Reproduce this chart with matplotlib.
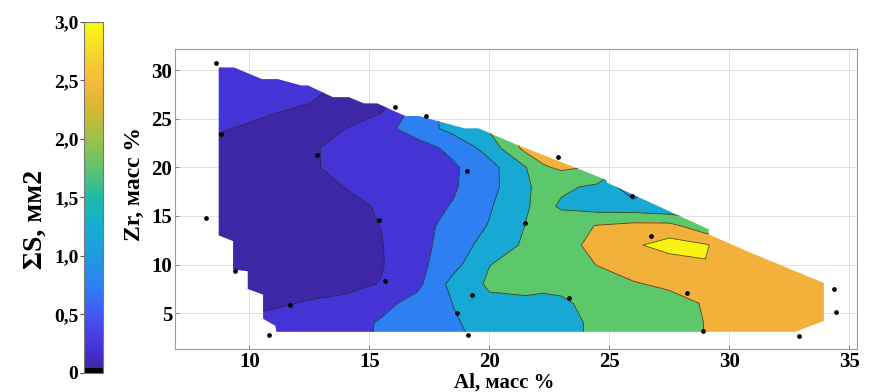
import numpy as np
import matplotlib
matplotlib.use('Agg')
import matplotlib.pyplot as plt
from matplotlib.colors import LinearSegmentedColormap, Normalize
from matplotlib.cm import ScalarMappable
from matplotlib.patches import Polygon

plt.rcParams['font.family'] = ['Liberation Serif', 'DejaVu Serif']
plt.rcParams['font.weight'] = 'bold'

# grid of the interpolated surface, sum of areas S (mm2)
al_nodes = [8.0, 9.5, 11.0, 12.5, 14.0, 15.5, 17.0, 18.5, 20.0, 21.5, 22.25,
            23.0, 24.5, 26.0, 27.5, 29.0, 30.5, 32.0, 33.5, 35.0]
zr_nodes = [2, 4, 6, 8, 10, 12, 14, 16, 18, 20, 22, 24, 26, 28, 30, 32]
area_grid = [
    [0.47, 0.50, 0.50, 0.50, 0.55, 0.82, 1.00, 1.16, 1.35, 1.50, 1.57, 1.64, 1.82, 2.00, 2.06, 2.26, 2.44, 2.50, 2.50, 2.50],
    [0.24, 0.32, 0.40, 0.50, 0.55, 0.80, 1.01, 1.21, 1.40, 1.50, 1.57, 1.64, 1.82, 2.00, 2.06, 2.26, 2.44, 2.50, 2.50, 2.50],
    [0.01, 0.09, 0.19, 0.29, 0.36, 0.61, 0.92, 1.26, 1.65, 1.65, 1.62, 1.69, 1.87, 2.02, 2.11, 2.28, 2.47, 2.50, 2.50, 2.50],
    [0.00, 0.00, 0.00, 0.07, 0.13, 0.27, 0.63, 1.42, 1.82, 1.90, 1.87, 1.85, 2.11, 2.22, 2.32, 2.40, 2.50, 2.50, 2.50, 2.50],
    [0.00, 0.00, 0.00, 0.00, 0.03, 0.22, 0.60, 1.09, 1.74, 1.91, 2.00, 2.08, 2.26, 2.43, 2.50, 2.73, 2.47, 2.45, 2.45, 2.50],
    [0.00, 0.00, 0.00, 0.00, 0.04, 0.23, 0.58, 0.99, 1.46, 1.82, 1.97, 2.15, 2.33, 2.68, 2.95, 2.80, 2.35, 2.05, 2.10, 2.20],
    [0.00, 0.00, 0.00, 0.00, 0.07, 0.26, 0.58, 0.91, 1.28, 1.76, 1.84, 2.06, 2.27, 2.39, 2.40, 1.90, 1.95, 2.00, 2.00, 2.00],
    [0.00, 0.00, 0.00, 0.00, 0.13, 0.30, 0.57, 0.78, 1.20, 1.70, 1.90, 1.68, 1.52, 1.45, 1.30, 1.50, 1.90, 2.00, 2.00, 2.00],
    [0.00, 0.00, 0.00, 0.10, 0.26, 0.41, 0.51, 0.70, 1.07, 1.72, 1.81, 1.83, 1.67, 0.90, 1.50, 1.80, 1.90, 2.00, 2.00, 2.00],
    [0.00, 0.00, 0.00, 0.19, 0.38, 0.50, 0.50, 0.68, 1.08, 1.72, 2.19, 2.33, 2.20, 1.50, 1.50, 1.80, 1.90, 2.00, 2.00, 2.00],
    [0.19, 0.06, 0.00, 0.20, 0.37, 0.54, 0.55, 0.875, 1.45, 2.40, 2.55, 2.80, 2.20, 1.50, 1.50, 1.80, 1.90, 2.00, 2.00, 2.00],
    [0.36, 0.23, 0.10, 0.11, 0.25, 0.58, 0.98, 1.42, 1.81, 2.50, 2.50, 2.50, 2.20, 1.50, 1.50, 1.80, 1.90, 2.00, 2.00, 2.00],
    [0.50, 0.43, 0.30, 0.19, 0.09, 0.17, 0.95, 1.50, 2.00, 2.50, 2.50, 2.50, 2.20, 1.50, 1.50, 1.80, 1.90, 2.00, 2.00, 2.00],
    [0.50, 0.50, 0.50, 0.40, 0.10, 0.10, 0.90, 1.50, 2.00, 2.50, 2.50, 2.50, 2.20, 1.50, 1.50, 1.80, 1.90, 2.00, 2.00, 2.00],
    [0.50, 0.50, 0.50, 0.50, 0.30, 0.30, 0.90, 1.50, 2.00, 2.50, 2.50, 2.50, 2.20, 1.50, 1.50, 1.80, 1.90, 2.00, 2.00, 2.00],
    [0.50, 0.50, 0.50, 0.50, 0.50, 0.50, 0.90, 1.50, 2.00, 2.50, 2.50, 2.50, 2.20, 1.50, 1.50, 1.80, 1.90, 2.00, 2.00, 2.00],
]

# outline of the composition region that was mapped
edge_al = [8.72, 9.36, 10.52, 11.19, 12.15, 12.44, 13.48, 14.15, 14.77, 15.33,
           16.49, 17.07, 18.96, 19.55, 21.07, 23.92, 24.89, 24.89, 29.14, 29.14,
           30.9, 33.94, 33.94, 32.74, 11.13, 11.08, 10.57, 10.57, 9.93, 9.93,
           9.32, 9.32, 8.72]
edge_zr = [30.3, 30.3, 29.1, 29.1, 28.45, 28.45, 27.24, 27.24, 26.6, 26.6,
           25.3, 25.3, 24.03, 24.03, 22.41, 19.66, 18.69, 18.45, 13.62, 13.1,
           11.2, 8.1, 4.2, 3.07, 3.07, 3.69, 4.41, 6.9, 7.48, 9.31,
           9.48, 12.41, 13.0]

# measured alloys
pt_al = [8.62, 8.81, 12.83, 16.07, 17.36, 19.08, 8.21, 15.38, 9.42, 15.67,
         11.70, 10.81, 18.64, 19.27, 19.10, 22.84, 25.93, 21.50, 26.72, 23.33,
         28.25, 28.90, 32.92, 34.38, 34.46]
pt_zr = [30.74, 23.42, 21.32, 26.26, 25.33, 19.61, 14.84, 14.60, 9.32, 8.32,
         5.85, 2.74, 4.96, 6.91, 2.70, 21.08, 17.04, 14.26, 12.92, 6.54,
         7.06, 3.11, 2.60, 7.53, 5.06]

levels = [-1, 0.25, 0.75, 1.25, 1.75, 2.25, 2.75, 4]
fill_colors = ['#3d27a6', '#4434d6', '#2e80f2', '#18a8d4', '#5dc76b', '#f2b13a', '#f9f214']

parula_stops = [(0.0, '#000000'), (0.012, '#000000'), (0.0121, '#3e26a8'),
                (0.06, '#4530cf'), (0.12, '#4643e8'), (0.18, '#3f5ff5'),
                (0.25, '#2e80f2'), (0.33, '#1f9ae0'), (0.42, '#14afcf'),
                (0.50, '#1fbaa9'), (0.58, '#5dc46d'), (0.67, '#9fc14a'),
                (0.75, '#d6b833'), (0.83, '#f7b93b'), (0.91, '#f6d52c'),
                (1.0, '#f9fb0e')]
cbar_ticks = [0, 0.5, 1.0, 1.5, 2.0, 2.5, 3.0]
cbar_labels = ['0', '0,5', '1,0', '1,5', '2,0', '2,5', '3,0']


fig = plt.figure(figsize=(8.69, 3.92), dpi=100)
ax = fig.add_axes([0.2014, 0.1097, 0.7848, 0.7653])

X, Y = np.meshgrid(al_nodes, zr_nodes)
Z = np.array(area_grid)

region = Polygon(np.column_stack([edge_al, edge_zr]), closed=True,
                 transform=ax.transData, facecolor='none', edgecolor='none')

cf = ax.contourf(X, Y, Z, levels=levels, colors=fill_colors, zorder=2)
cf.set_clip_path(region)
cl = ax.contour(X, Y, Z, levels=levels[1:-1], colors='#202020',
                linewidths=0.6, alpha=0.8, zorder=3)
cl.set_clip_path(region)

ax.plot(pt_al, pt_zr, 'o', color='black', ms=2.4, zorder=5)

ax.set_xlim(6.9, 35.32)
ax.set_ylim(1.3, 32.2)
ax.set_xticks([10, 15, 20, 25, 30, 35])
ax.set_yticks([5, 10, 15, 20, 25, 30])
ax.grid(True, color='#dddddd', lw=0.6)
ax.set_axisbelow(True)
ax.tick_params(direction='in', length=3, color='#888888', labelsize=15, pad=2)
for s in ax.spines.values():
    s.set_color('#9a9a9a')
    s.set_linewidth(0.8)

fig.text(0.58, 0.025, 'Al, масс %', ha='center', va='center', fontsize=15, fontweight='bold')
fig.text(0.155, 0.53, 'Zr, масс %', ha='center', va='center', rotation=90,
         fontsize=17, fontweight='bold')

# colorbar on the left
cmap = LinearSegmentedColormap.from_list('parula_like', parula_stops, N=512)
cax = fig.add_axes([0.0967, 0.0485, 0.0219, 0.8954])
cb = fig.colorbar(ScalarMappable(norm=Normalize(0, 3), cmap=cmap), cax=cax)
cb.set_ticks(cbar_ticks)
cb.set_ticklabels(cbar_labels)
cax.yaxis.set_ticks_position('left')
cax.yaxis.set_label_position('left')
cax.tick_params(labelsize=14, length=3, width=0.8, color='#555555', pad=1)
cb.outline.set_edgecolor('#777777')
cb.outline.set_linewidth(0.8)
fig.text(0.04, 0.44, 'ΣS, мм2', ha='center', va='center', rotation=90,
         fontsize=20, fontweight='bold')

fig.savefig('out.png', dpi=100)
